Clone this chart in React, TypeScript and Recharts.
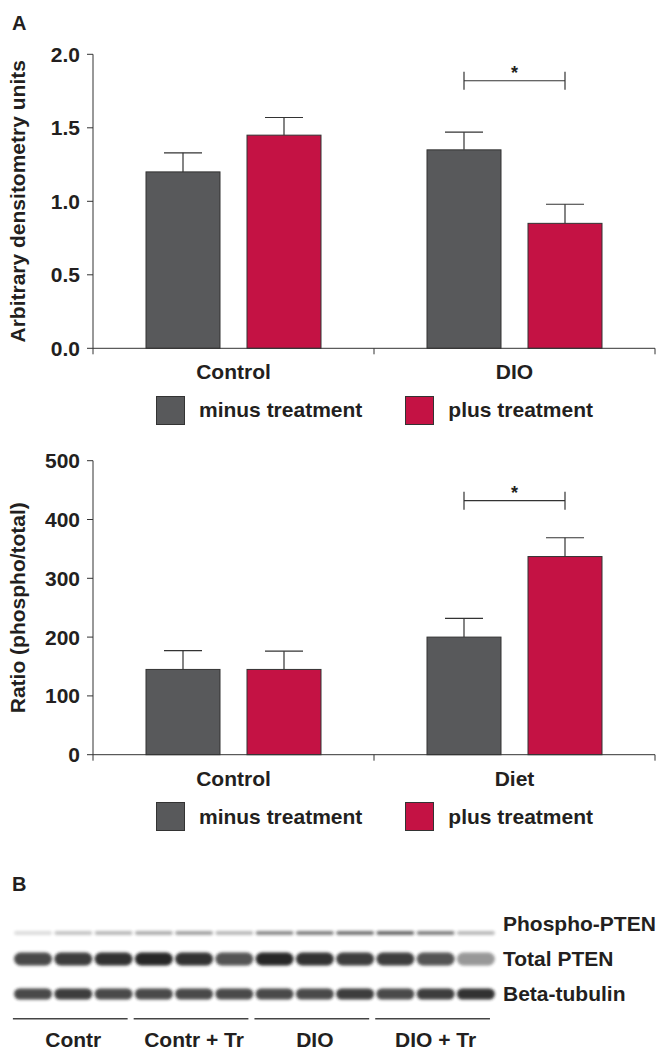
import { BarChart, Bar, XAxis, YAxis, Legend, Label, ScatterChart, Scatter, ReferenceLine } from "recharts"

const FONT = "'Liberation Sans', Arial, Helvetica, sans-serif"
const INK = "#231f20"
const AXIS = "#333333"
const GREY = "#58595b"
const RED = "#c41244"
const BAR_GAP = 27

// panel A - densitometry
const groupsTop = ["Control", "DIO"]
const minusTop = [1.2, 1.35]
const plusTop = [1.45, 0.85]
const minusErrTop = [0.13, 0.12]
const plusErrTop = [0.12, 0.13]
const sigTop = [null, 1.82]
const ticksTop = [0, 0.5, 1, 1.5, 2]

// panel A - phospho / total ratio
const groupsBottom = ["Control", "Diet"]
const minusBottom = [145, 200]
const plusBottom = [145, 337]
const minusErrBottom = [32, 32]
const plusErrBottom = [31, 32]
const sigBottom = [null, 432]
const ticksBottom = [0, 100, 200, 300, 400, 500]

// panel B - blot, band strength per lane (0..1)
const laneGroups = ["Contr", "Contr + Tr", "DIO", "DIO + Tr"]
const blotRows = ["Beta-tubulin", "Total PTEN", "Phospho-PTEN"]
const tubulinBand = [0.8, 0.85, 0.8, 0.8, 0.8, 0.8, 0.8, 0.8, 0.85, 0.8, 0.85, 0.9]
const totalBand = [0.8, 0.85, 0.9, 0.95, 0.9, 0.75, 0.95, 0.9, 0.85, 0.85, 0.75, 0.45]
const phosphoBand = [0.15, 0.25, 0.3, 0.35, 0.4, 0.3, 0.5, 0.55, 0.6, 0.65, 0.55, 0.3]

const tickStyle = { fontSize: 21, fontWeight: 700, fill: INK, fontFamily: FONT }

function buildRows(groups, minus, plus, minusErr, plusErr, sig) {
    return groups.map((g, i) => ({
        pos: i + 0.5,
        group: g,
        minus: minus[i],
        plus: plus[i],
        minusErr: minusErr[i],
        plusErr: plusErr[i],
        sig: sig[i],
    }))
}

// bar + upper whisker (+ significance bracket on the minus bar)
function makeBarShape(valueKey, errKey, withBracket) {
    return (props: any) => {
        const { x, y, width, height, fill, payload } = props
        const v = payload[valueKey]
        const ppu = v ? height / v : 0
        const base = y + height
        const cx = x + width / 2
        const errTop = y - payload[errKey] * ppu
        const sig = payload.sig
        let bracket = null
        if (withBracket && sig != null) {
            const yb = base - sig * ppu
            const x2 = cx + width + BAR_GAP
            bracket = (
                <g stroke={AXIS} strokeWidth={1.2}>
                    <line x1={cx} x2={x2} y1={yb} y2={yb} />
                    <line x1={cx} x2={cx} y1={yb - 9} y2={yb + 9} />
                    <line x1={x2} x2={x2} y1={yb - 9} y2={yb + 9} />
                    <text x={(cx + x2) / 2} y={yb - 2} textAnchor="middle" stroke="none" fill={INK}
                        fontSize={18} fontWeight={700} fontFamily={FONT}>*</text>
                </g>
            )
        }
        return (
            <g>
                <line x1={cx} x2={cx} y1={y} y2={errTop} stroke={AXIS} strokeWidth={1.2} />
                <line x1={cx - 19} x2={cx + 19} y1={errTop} y2={errTop} stroke={AXIS} strokeWidth={1.2} />
                <rect x={x} y={y} width={width} height={height} fill={fill} stroke={AXIS} strokeWidth={1} />
                {bracket}
            </g>
        )
    }
}

function makeXTick(groups) {
    return (props: any) => {
        const { x, y, payload } = props
        const v = payload.value
        if (Number.isInteger(v)) {
            return <line x1={x} x2={x} y1={y} y2={y + 6} stroke={AXIS} strokeWidth={1} />
        }
        return (
            <text x={x} y={y + 31} textAnchor="middle" {...tickStyle}>{groups[Math.floor(v)]}</text>
        )
    }
}

function renderLegend(props: any) {
    const { payload } = props
    return (
        <div style={{ display: "flex", justifyContent: "center", paddingLeft: 93, gap: 43, height: 30 }}>
            {payload.map((e) => (
                <div key={e.value} style={{ display: "flex", alignItems: "center" }}>
                    <span style={{ width: 27, height: 27, background: e.color, border: `1.5px solid ${AXIS}`, marginRight: 14 }} />
                    <span style={{ fontSize: 21, fontWeight: 700, color: INK, fontFamily: FONT }}>{e.value}</span>
                </div>
            ))}
        </div>
    )
}

function DensityPanel({ rows, groups, ticks, domain, fmt, yLabel, top, height, marginTop, marginBottom, legendTop }) {
    return (
        <div style={{ position: "absolute", left: 0, top }}>
            <BarChart width={656} height={height} data={rows} barSize={74} barGap={BAR_GAP}
                margin={{ top: marginTop, right: 1, left: 0, bottom: marginBottom }}
                style={{ fontFamily: FONT }}>
                <XAxis dataKey="pos" type="number" domain={[0, 2]} ticks={[0, 0.5, 1, 1.5, 2]} interval={0}
                    height={40} tickSize={0} tickMargin={0} tickLine={false}
                    axisLine={{ stroke: AXIS, strokeWidth: 1 }} tick={makeXTick(groups)} />
                <YAxis type="number" domain={domain} ticks={ticks} interval={0} width={93}
                    tickFormatter={fmt} tickSize={6} tickMargin={7} tick={tickStyle}
                    axisLine={{ stroke: AXIS, strokeWidth: 1 }} tickLine={{ stroke: AXIS }}>
                    <Label content={(p: any) => {
                        const vb = p.viewBox
                        const cy = vb.y + vb.height / 2
                        return (
                            <text x={25} y={cy} transform={`rotate(-90, 25, ${cy})`} textAnchor="middle" {...tickStyle}>
                                {yLabel}
                            </text>
                        )
                    }} />
                </YAxis>
                <Legend content={renderLegend} wrapperStyle={{ top: legendTop, left: 0, width: 656, height: 30 }} />
                <Bar dataKey="minus" name="minus treatment" fill={GREY} isAnimationActive={false}
                    shape={makeBarShape("minus", "minusErr", true)} />
                <Bar dataKey="plus" name="plus treatment" fill={RED} isAnimationActive={false}
                    shape={makeBarShape("plus", "plusErr", false)} />
            </BarChart>
        </div>
    )
}

const blotData = [tubulinBand, totalBand, phosphoBand].flatMap((band, r) =>
    band.map((level, i) => ({ lane: i + 1, row: r + 1, level }))
)

function BandShape(props: any) {
    const { cx, cy, payload } = props
    const h = payload.row === 3 ? 4 : payload.row === 2 ? 13 : 11
    const dy = payload.row === 3 ? 9 : 0
    return (
        <g>
            <defs>
                <filter id="blotblur" x="-20%" y="-100%" width="140%" height="300%">
                    <feGaussianBlur stdDeviation="1.8 1.4" />
                </filter>
            </defs>
            <rect x={cx - 19} y={cy + dy - h / 2} width={38} height={h} rx={h / 2} fill="#1c1c1c"
                opacity={payload.level} filter="url(#blotblur)" />
        </g>
    )
}

function BlotPanel() {
    return (
        <div style={{ position: "absolute", left: 0, top: 880 }}>
            <ScatterChart width={656} height={174} margin={{ top: 26.5, right: 0, left: 12.9, bottom: 3.75 }}
                style={{ fontFamily: FONT }}>
                <XAxis dataKey="lane" type="number" domain={[0.5, 12.5]} ticks={[2, 5, 8, 11]} interval={0}
                    tickFormatter={(v) => laneGroups[(v - 2) / 3]} axisLine={false} tickLine={false}
                    tickSize={0} tickMargin={11.5} height={30} tick={tickStyle} />
                <YAxis dataKey="row" type="number" orientation="right" domain={[0.25, 3.5]} ticks={[1, 2, 3]}
                    interval={0} width={160} tickFormatter={(v) => blotRows[v - 1]} axisLine={false}
                    tickLine={false} tickSize={0} tickMargin={7} tick={{ ...tickStyle, textAnchor: "start" }} />
                {laneGroups.map((g, k) => (
                    <ReferenceLine key={g} segment={[{ x: k * 3 + 0.5, y: 0.29 }, { x: k * 3 + 3.35, y: 0.29 }]}
                        stroke="#444" strokeWidth={1.5} />
                ))}
                <Scatter data={blotData} isAnimationActive={false} shape={BandShape} />
            </ScatterChart>
        </div>
    )
}

export default function App() {
    const rowsTop = buildRows(groupsTop, minusTop, plusTop, minusErrTop, plusErrTop, sigTop)
    const rowsBottom = buildRows(groupsBottom, minusBottom, plusBottom, minusErrBottom, plusErrBottom, sigBottom)
    return (
        <div style={{ position: "absolute", left: 0, top: 0, width: 656, height: 1054, background: "#fff", overflow: "hidden" }}>
            <DensityPanel rows={rowsTop} groups={groupsTop} ticks={ticksTop} domain={[0, 2]}
                fmt={(v) => v.toFixed(1)} yLabel="Arbitrary densitometry units"
                top={0} height={440} marginTop={54.3} marginBottom={21.7} legendTop={395} />
            <DensityPanel rows={rowsBottom} groups={groupsBottom} ticks={ticksBottom} domain={[0, 500]}
                fmt={(v) => String(v)} yLabel="Ratio (phospho/total)"
                top={440} height={420} marginTop={20.7} marginBottom={35.3} legendTop={361.7} />
            <BlotPanel />
            <svg width={656} height={1054} style={{ position: "absolute", left: 0, top: 0, pointerEvents: "none" }}>
                <text x={12} y={30} fontSize={20} fontWeight={700} fill={INK} fontFamily={FONT}>A</text>
                <text x={12} y={891} fontSize={20} fontWeight={700} fill={INK} fontFamily={FONT}>B</text>
            </svg>
        </div>
    )
}
